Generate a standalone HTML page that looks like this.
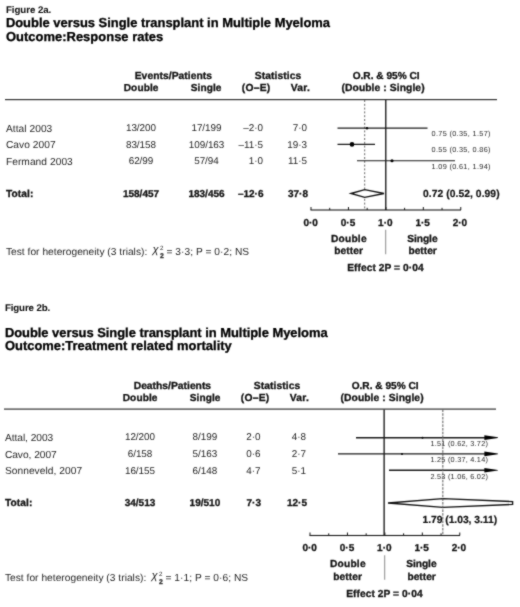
<!DOCTYPE html>
<html><head><meta charset="utf-8"><title>Figure 2</title>
<style>
html,body{margin:0;padding:0;background:#fff;}
body{width:520px;height:607px;overflow:hidden;}
svg{display:block;text-rendering:geometricPrecision;font-family:"Liberation Sans",sans-serif;}
</style></head><body>
<svg width="520" height="607" viewBox="0 0 520 607">
<defs><filter id="soft" x="0" y="0" width="520" height="607" filterUnits="userSpaceOnUse" color-interpolation-filters="sRGB"><feConvolveMatrix order="3" kernelMatrix="0.3 0.75 0.3 0.75 5 0.75 0.3 0.75 0.3" divisor="9.2" edgeMode="duplicate" preserveAlpha="false"/></filter></defs>
<g filter="url(#soft)">
<rect width="520" height="607" fill="#fff"/>
<g transform="translate(0,0)">
<text transform="translate(5.9 12.5) scale(1.0 1)" font-size="9.7" font-weight="bold" text-anchor="start" fill="#111" textLength="45.4" lengthAdjust="spacing" stroke="#111" stroke-width="0.05">Figure 2a.</text>
<text transform="translate(5.9 27) scale(1.0 1)" font-size="12.95" font-weight="bold" text-anchor="start" fill="#000" textLength="324.1" lengthAdjust="spacing" stroke="#000" stroke-width="0.3">Double versus Single transplant in Multiple Myeloma</text>
<text transform="translate(5.9 40.5) scale(1.0 1)" font-size="12.95" font-weight="bold" text-anchor="start" fill="#000" textLength="157.4" lengthAdjust="spacing" stroke="#000" stroke-width="0.3">Outcome:Response rates</text>
<text transform="translate(134.7 79) scale(1.0 1)" font-size="10.3" font-weight="bold" text-anchor="start" fill="#111" textLength="77.4" lengthAdjust="spacing" stroke="#111" stroke-width="0.3">Events/Patients</text>
<text transform="translate(123.7 91) scale(1.0 1)" font-size="10.1" font-weight="bold" text-anchor="start" fill="#111" textLength="34.8" lengthAdjust="spacing" stroke="#111" stroke-width="0.3">Double</text>
<text transform="translate(190.7 91) scale(1.0 1)" font-size="10.1" font-weight="bold" text-anchor="start" fill="#111" textLength="30.8" lengthAdjust="spacing" stroke="#111" stroke-width="0.3">Single</text>
<text transform="translate(254.7 79) scale(1.0 1)" font-size="10.3" font-weight="bold" text-anchor="start" fill="#111" textLength="46.6" lengthAdjust="spacing" stroke="#111" stroke-width="0.3">Statistics</text>
<text transform="translate(241.7 91) scale(1.0 1)" font-size="10.3" font-weight="bold" text-anchor="start" fill="#111" textLength="28.6" lengthAdjust="spacing" stroke="#111" stroke-width="0.3">(O–E)</text>
<text transform="translate(290.7 91) scale(1.0 1)" font-size="10.3" font-weight="bold" text-anchor="start" fill="#111" textLength="19.1" lengthAdjust="spacing" stroke="#111" stroke-width="0.3">Var.</text>
<text transform="translate(352.7 79) scale(1.0 1)" font-size="10.1" font-weight="bold" text-anchor="start" fill="#111" textLength="66.9" lengthAdjust="spacing" stroke="#111" stroke-width="0.3">O.R. &amp; 95% CI</text>
<text transform="translate(341.5 91) scale(1.0 1)" font-size="10.3" font-weight="bold" text-anchor="start" fill="#111" textLength="83.1" lengthAdjust="spacing" stroke="#111" stroke-width="0.3">(Double : Single)</text>
<rect x="5" y="99" width="492" height="1.2" fill="#333"/>
<text transform="translate(5.9 131.5) scale(1.0 1)" font-size="10.2" font-weight="normal" text-anchor="start" fill="#262626" textLength="46.4" lengthAdjust="spacing">Attal 2003</text>
<text transform="translate(141 130.9) scale(1.0 1)" font-size="9.9" font-weight="normal" text-anchor="middle" fill="#262626">13/200</text>
<text transform="translate(206.5 130.9) scale(1.0 1)" font-size="9.9" font-weight="normal" text-anchor="middle" fill="#262626">17/199</text>
<text transform="translate(263 130.9) scale(1.0 1)" font-size="9.9" font-weight="normal" text-anchor="end" fill="#262626">–2·0</text>
<text transform="translate(307 130.9) scale(1.0 1)" font-size="9.9" font-weight="normal" text-anchor="end" fill="#262626">7·0</text>
<text transform="translate(5.9 148.3) scale(1.0 1)" font-size="10.2" font-weight="normal" text-anchor="start" fill="#262626" textLength="49.7" lengthAdjust="spacing">Cavo 2007</text>
<text transform="translate(141 147.70000000000002) scale(1.0 1)" font-size="9.9" font-weight="normal" text-anchor="middle" fill="#262626">83/158</text>
<text transform="translate(206.5 147.70000000000002) scale(1.0 1)" font-size="9.9" font-weight="normal" text-anchor="middle" fill="#262626">109/163</text>
<text transform="translate(263 147.70000000000002) scale(1.0 1)" font-size="9.9" font-weight="normal" text-anchor="end" fill="#262626">–11·5</text>
<text transform="translate(307 147.70000000000002) scale(1.0 1)" font-size="9.9" font-weight="normal" text-anchor="end" fill="#262626">19·3</text>
<text transform="translate(5.9 164.9) scale(1.0 1)" font-size="10.2" font-weight="normal" text-anchor="start" fill="#262626" textLength="66.9" lengthAdjust="spacing">Fermand 2003</text>
<text transform="translate(141 164.3) scale(1.0 1)" font-size="9.9" font-weight="normal" text-anchor="middle" fill="#262626">62/99</text>
<text transform="translate(206.5 164.3) scale(1.0 1)" font-size="9.9" font-weight="normal" text-anchor="middle" fill="#262626">57/94</text>
<text transform="translate(263 164.3) scale(1.0 1)" font-size="9.9" font-weight="normal" text-anchor="end" fill="#262626">1·0</text>
<text transform="translate(307 164.3) scale(1.0 1)" font-size="9.9" font-weight="normal" text-anchor="end" fill="#262626">11·5</text>
<text transform="translate(5.9 196.75) scale(1.0 1)" font-size="10.2" font-weight="bold" text-anchor="start" fill="#111" textLength="27.4" lengthAdjust="spacing" stroke="#111" stroke-width="0.3">Total:</text>
<text transform="translate(141 196.75) scale(1.0 1)" font-size="10.0" font-weight="bold" text-anchor="middle" fill="#111" stroke="#111" stroke-width="0.3">158/457</text>
<text transform="translate(206.5 196.75) scale(1.0 1)" font-size="10.0" font-weight="bold" text-anchor="middle" fill="#111" stroke="#111" stroke-width="0.3">183/456</text>
<text transform="translate(263.5 196.75) scale(1.0 1)" font-size="10.0" font-weight="bold" text-anchor="end" fill="#111" stroke="#111" stroke-width="0.3">–12·6</text>
<text transform="translate(308 196.75) scale(1.0 1)" font-size="10.0" font-weight="bold" text-anchor="end" fill="#111" stroke="#111" stroke-width="0.3">37·8</text>
<line x1="364.7" y1="100" x2="364.7" y2="210" stroke="#666" stroke-width="1" stroke-dasharray="2 1.8"/>
<rect x="385.1" y="100" width="1.35" height="110" fill="#1a1a1a"/>
<line x1="337.5" y1="128.2" x2="427.5" y2="128.2" stroke="#1a1a1a" stroke-width="1.2"/>
<circle cx="367" cy="128.2" r="1.2" fill="#000"/>
<text transform="translate(431.5 136.2) scale(1.0 1)" font-size="7.3" font-weight="normal" text-anchor="start" fill="#2a2a2a" textLength="59.0" lengthAdjust="spacing">0.75 (0.35, 1.57)</text>
<line x1="337.5" y1="144.4" x2="375" y2="144.4" stroke="#1a1a1a" stroke-width="1.2"/>
<circle cx="352" cy="144.4" r="2.3" fill="#000"/>
<text transform="translate(431.5 152.4) scale(1.0 1)" font-size="7.3" font-weight="normal" text-anchor="start" fill="#2a2a2a" textLength="59.0" lengthAdjust="spacing">0.55 (0.35, 0.86)</text>
<line x1="357" y1="160.75" x2="455" y2="160.75" stroke="#1a1a1a" stroke-width="1.2"/>
<circle cx="392" cy="160.75" r="1.6" fill="#000"/>
<text transform="translate(431.5 168.75) scale(1.0 1)" font-size="7.3" font-weight="normal" text-anchor="start" fill="#2a2a2a" textLength="59.0" lengthAdjust="spacing">1.09 (0.61, 1.94)</text>
<polygon points="351,193.5 364.7,189.6 384,193.5 364.7,197.4" fill="#fff" stroke="#111" stroke-width="1.35" stroke-linejoin="miter"/>
<text transform="translate(423.0 196.75) scale(1.0 1)" font-size="10.3" font-weight="bold" text-anchor="start" fill="#111" textLength="76.6" lengthAdjust="spacing" stroke="#111" stroke-width="0.2">0.72 (0.52, 0.99)</text>
<rect x="310.5" y="209.45" width="150.5" height="1.1" fill="#1a1a1a"/>
<rect x="310.5" y="207" width="1" height="3" fill="#1a1a1a"/>
<rect x="329.22" y="207.8" width="1" height="2.2" fill="#1a1a1a"/>
<rect x="347.94" y="207" width="1" height="3" fill="#1a1a1a"/>
<rect x="366.65999999999997" y="207.8" width="1" height="2.2" fill="#1a1a1a"/>
<rect x="385.38" y="207" width="1" height="3" fill="#1a1a1a"/>
<rect x="404.1" y="207.8" width="1" height="2.2" fill="#1a1a1a"/>
<rect x="422.82" y="207" width="1" height="3" fill="#1a1a1a"/>
<rect x="441.53999999999996" y="207.8" width="1" height="2.2" fill="#1a1a1a"/>
<rect x="460.26" y="207" width="1" height="3" fill="#1a1a1a"/>
<text transform="translate(310.7 225.8) scale(1.0 1)" font-size="10.0" font-weight="bold" text-anchor="middle" fill="#111" stroke="#111" stroke-width="0.3">0·0</text>
<text transform="translate(348.0 225.8) scale(1.0 1)" font-size="10.0" font-weight="bold" text-anchor="middle" fill="#111" stroke="#111" stroke-width="0.3">0·5</text>
<text transform="translate(385.29999999999995 225.8) scale(1.0 1)" font-size="10.0" font-weight="bold" text-anchor="middle" fill="#111" stroke="#111" stroke-width="0.3">1·0</text>
<text transform="translate(422.59999999999997 225.8) scale(1.0 1)" font-size="10.0" font-weight="bold" text-anchor="middle" fill="#111" stroke="#111" stroke-width="0.3">1·5</text>
<text transform="translate(459.9 225.8) scale(1.0 1)" font-size="10.0" font-weight="bold" text-anchor="middle" fill="#111" stroke="#111" stroke-width="0.3">2·0</text>
<text transform="translate(330.9 241.75) scale(1.0 1)" font-size="10.2" font-weight="bold" text-anchor="start" fill="#111" textLength="35.7" lengthAdjust="spacing" stroke="#111" stroke-width="0.3">Double</text>
<text transform="translate(334.2 254) scale(1.0 1)" font-size="10.2" font-weight="bold" text-anchor="start" fill="#111" textLength="28.7" lengthAdjust="spacing" stroke="#111" stroke-width="0.3">better</text>
<text transform="translate(407.2 241.75) scale(1.0 1)" font-size="10.2" font-weight="bold" text-anchor="start" fill="#111" textLength="30.4" lengthAdjust="spacing" stroke="#111" stroke-width="0.3">Single</text>
<text transform="translate(408.4 254) scale(1.0 1)" font-size="10.2" font-weight="bold" text-anchor="start" fill="#111" textLength="28.4" lengthAdjust="spacing" stroke="#111" stroke-width="0.3">better</text>
<rect x="385.2" y="229.75" width="1" height="24.5" fill="#8a8a8a"/>
<text transform="translate(347.2 271) scale(1.0 1)" font-size="10.2" font-weight="bold" text-anchor="start" fill="#111" textLength="76.4" lengthAdjust="spacing" stroke="#111" stroke-width="0.3">Effect 2P = 0·04</text>
<text transform="translate(5.9 255.25) scale(1.0 1)" font-size="10.2" font-weight="normal" text-anchor="start" fill="#262626" textLength="141.4" lengthAdjust="spacing">Test for heterogeneity (3 trials):</text>
<text transform="translate(152.4 253.15) scale(1.0 1)" font-size="11.2" font-weight="normal" text-anchor="start" fill="#262626" font-style="italic">χ</text>
<text transform="translate(160.1 250.05) scale(1.0 1)" font-size="6.2" font-weight="normal" text-anchor="start" fill="#262626">2</text>
<text transform="translate(160 258.35) scale(1.0 1)" font-size="6.8" font-weight="bold" text-anchor="start" fill="#333" stroke="#333" stroke-width="0.3">2</text>
<text transform="translate(166.5 255.25) scale(1.0 1)" font-size="10.2" font-weight="normal" text-anchor="start" fill="#262626" textLength="82.6" lengthAdjust="spacing">= 3·3; P = 0·2; NS</text>
</g>
<g transform="translate(-1,0)">
<text transform="translate(5.9 311) scale(1.0 1)" font-size="9.7" font-weight="bold" text-anchor="start" fill="#111" textLength="45.4" lengthAdjust="spacing" stroke="#111" stroke-width="0.05">Figure 2b.</text>
<text transform="translate(5.9 336.5) scale(1.0 1)" font-size="12.95" font-weight="bold" text-anchor="start" fill="#000" textLength="322.7" lengthAdjust="spacing" stroke="#000" stroke-width="0.3">Double versus Single transplant in Multiple Myeloma</text>
<text transform="translate(5.9 350.0) scale(1.0 1)" font-size="12.95" font-weight="bold" text-anchor="start" fill="#000" textLength="226.9" lengthAdjust="spacing" stroke="#000" stroke-width="0.3">Outcome:Treatment related mortality</text>
<text transform="translate(134.7 388.5) scale(1.0 1)" font-size="10.3" font-weight="bold" text-anchor="start" fill="#111" textLength="77.4" lengthAdjust="spacing" stroke="#111" stroke-width="0.3">Deaths/Patients</text>
<text transform="translate(123.7 400.5) scale(1.0 1)" font-size="10.1" font-weight="bold" text-anchor="start" fill="#111" textLength="34.8" lengthAdjust="spacing" stroke="#111" stroke-width="0.3">Double</text>
<text transform="translate(190.7 400.5) scale(1.0 1)" font-size="10.1" font-weight="bold" text-anchor="start" fill="#111" textLength="30.8" lengthAdjust="spacing" stroke="#111" stroke-width="0.3">Single</text>
<text transform="translate(254.7 388.5) scale(1.0 1)" font-size="10.3" font-weight="bold" text-anchor="start" fill="#111" textLength="46.6" lengthAdjust="spacing" stroke="#111" stroke-width="0.3">Statistics</text>
<text transform="translate(241.7 400.5) scale(1.0 1)" font-size="10.3" font-weight="bold" text-anchor="start" fill="#111" textLength="28.6" lengthAdjust="spacing" stroke="#111" stroke-width="0.3">(O–E)</text>
<text transform="translate(290.7 400.5) scale(1.0 1)" font-size="10.3" font-weight="bold" text-anchor="start" fill="#111" textLength="19.1" lengthAdjust="spacing" stroke="#111" stroke-width="0.3">Var.</text>
<text transform="translate(352.7 388.5) scale(1.0 1)" font-size="10.1" font-weight="bold" text-anchor="start" fill="#111" textLength="66.9" lengthAdjust="spacing" stroke="#111" stroke-width="0.3">O.R. &amp; 95% CI</text>
<text transform="translate(341.5 400.5) scale(1.0 1)" font-size="10.3" font-weight="bold" text-anchor="start" fill="#111" textLength="83.1" lengthAdjust="spacing" stroke="#111" stroke-width="0.3">(Double : Single)</text>
<rect x="5" y="408.5" width="492" height="1.2" fill="#333"/>
<text transform="translate(5.9 441.0) scale(1.0 1)" font-size="10.2" font-weight="normal" text-anchor="start" fill="#262626" textLength="48.4" lengthAdjust="spacing">Attal, 2003</text>
<text transform="translate(141 440.4) scale(1.0 1)" font-size="9.9" font-weight="normal" text-anchor="middle" fill="#262626">12/200</text>
<text transform="translate(205.9 440.4) scale(1.0 1)" font-size="9.9" font-weight="normal" text-anchor="middle" fill="#262626">8/199</text>
<text transform="translate(261.5 440.4) scale(1.0 1)" font-size="9.9" font-weight="normal" text-anchor="end" fill="#262626">2·0</text>
<text transform="translate(307 440.4) scale(1.0 1)" font-size="9.9" font-weight="normal" text-anchor="end" fill="#262626">4·8</text>
<text transform="translate(5.9 457.8) scale(1.0 1)" font-size="10.2" font-weight="normal" text-anchor="start" fill="#262626" textLength="51.9" lengthAdjust="spacing">Cavo, 2007</text>
<text transform="translate(141 457.2) scale(1.0 1)" font-size="9.9" font-weight="normal" text-anchor="middle" fill="#262626">6/158</text>
<text transform="translate(205.9 457.2) scale(1.0 1)" font-size="9.9" font-weight="normal" text-anchor="middle" fill="#262626">5/163</text>
<text transform="translate(261.5 457.2) scale(1.0 1)" font-size="9.9" font-weight="normal" text-anchor="end" fill="#262626">0·6</text>
<text transform="translate(307 457.2) scale(1.0 1)" font-size="9.9" font-weight="normal" text-anchor="end" fill="#262626">2·7</text>
<text transform="translate(5.9 474.4) scale(1.0 1)" font-size="10.2" font-weight="normal" text-anchor="start" fill="#262626" textLength="77.2" lengthAdjust="spacing">Sonneveld, 2007</text>
<text transform="translate(141 473.79999999999995) scale(1.0 1)" font-size="9.9" font-weight="normal" text-anchor="middle" fill="#262626">16/155</text>
<text transform="translate(205.9 473.79999999999995) scale(1.0 1)" font-size="9.9" font-weight="normal" text-anchor="middle" fill="#262626">6/148</text>
<text transform="translate(261.5 473.79999999999995) scale(1.0 1)" font-size="9.9" font-weight="normal" text-anchor="end" fill="#262626">4·7</text>
<text transform="translate(307 473.79999999999995) scale(1.0 1)" font-size="9.9" font-weight="normal" text-anchor="end" fill="#262626">5·1</text>
<text transform="translate(5.9 506.25) scale(1.0 1)" font-size="10.2" font-weight="bold" text-anchor="start" fill="#111" textLength="27.4" lengthAdjust="spacing" stroke="#111" stroke-width="0.3">Total:</text>
<text transform="translate(141 506.25) scale(1.0 1)" font-size="10.0" font-weight="bold" text-anchor="middle" fill="#111" stroke="#111" stroke-width="0.3">34/513</text>
<text transform="translate(205.9 506.25) scale(1.0 1)" font-size="10.0" font-weight="bold" text-anchor="middle" fill="#111" stroke="#111" stroke-width="0.3">19/510</text>
<text transform="translate(262.0 506.25) scale(1.0 1)" font-size="10.0" font-weight="bold" text-anchor="end" fill="#111" stroke="#111" stroke-width="0.3">7·3</text>
<text transform="translate(308 506.25) scale(1.0 1)" font-size="10.0" font-weight="bold" text-anchor="end" fill="#111" stroke="#111" stroke-width="0.3">12·5</text>
<rect x="384.45" y="409.5" width="1.35" height="126.0" fill="#1a1a1a"/>
<line x1="357" y1="437.7" x2="487" y2="437.7" stroke="#1a1a1a" stroke-width="1.35"/>
<polygon points="485.4,435.34999999999997 498.9,437.34999999999997 498.9,438.05 485.4,440.05" fill="#000"/>
<circle cx="423.5" cy="437.7" r="1.0" fill="#000"/>
<text transform="translate(431.5 446.0) scale(1.0 1)" font-size="7.3" font-weight="normal" text-anchor="start" fill="#2a2a2a" textLength="57.4" lengthAdjust="spacing">1.51 (0.62, 3.72)</text>
<line x1="339" y1="453.9" x2="487" y2="453.9" stroke="#1a1a1a" stroke-width="1.35"/>
<polygon points="485.4,451.54999999999995 498.9,453.54999999999995 498.9,454.25 485.4,456.25" fill="#000"/>
<circle cx="403" cy="453.9" r="1.0" fill="#000"/>
<text transform="translate(431.5 462.2) scale(1.0 1)" font-size="7.3" font-weight="normal" text-anchor="start" fill="#2a2a2a" textLength="57.4" lengthAdjust="spacing">1.25 (0.37, 4.14)</text>
<line x1="390" y1="470.25" x2="487" y2="470.25" stroke="#1a1a1a" stroke-width="1.35"/>
<polygon points="485.4,467.9 498.9,469.9 498.9,470.6 485.4,472.6" fill="#000"/>
<text transform="translate(431.5 478.55) scale(1.0 1)" font-size="7.3" font-weight="normal" text-anchor="start" fill="#2a2a2a" textLength="57.4" lengthAdjust="spacing">2.53 (1.06, 6.02)</text>
<polygon points="389,503 443.85,498.6 513.6,501.6 513.6,504.4 443.85,507.4" fill="#fff" stroke="#111" stroke-width="1.35" stroke-linejoin="miter"/>
<line x1="443.85" y1="409.5" x2="443.85" y2="535.5" stroke="#5a5a5a" stroke-width="1" stroke-dasharray="2.6 1.1"/>
<text transform="translate(423.5 522.8) scale(1.0 1)" font-size="10.3" font-weight="bold" text-anchor="start" fill="#111" textLength="74.6" lengthAdjust="spacing" stroke="#111" stroke-width="0.2">1.79 (1.03, 3.11)</text>
<rect x="310.5" y="534.95" width="150.5" height="1.1" fill="#1a1a1a"/>
<rect x="310.5" y="532.5" width="1" height="3" fill="#1a1a1a"/>
<rect x="329.22" y="533.3" width="1" height="2.2" fill="#1a1a1a"/>
<rect x="347.94" y="532.5" width="1" height="3" fill="#1a1a1a"/>
<rect x="366.65999999999997" y="533.3" width="1" height="2.2" fill="#1a1a1a"/>
<rect x="385.38" y="532.5" width="1" height="3" fill="#1a1a1a"/>
<rect x="404.1" y="533.3" width="1" height="2.2" fill="#1a1a1a"/>
<rect x="422.82" y="532.5" width="1" height="3" fill="#1a1a1a"/>
<rect x="441.53999999999996" y="533.3" width="1" height="2.2" fill="#1a1a1a"/>
<rect x="460.26" y="532.5" width="1" height="3" fill="#1a1a1a"/>
<text transform="translate(310.7 551.3) scale(1.0 1)" font-size="10.0" font-weight="bold" text-anchor="middle" fill="#111" stroke="#111" stroke-width="0.3">0·0</text>
<text transform="translate(348.0 551.3) scale(1.0 1)" font-size="10.0" font-weight="bold" text-anchor="middle" fill="#111" stroke="#111" stroke-width="0.3">0·5</text>
<text transform="translate(385.29999999999995 551.3) scale(1.0 1)" font-size="10.0" font-weight="bold" text-anchor="middle" fill="#111" stroke="#111" stroke-width="0.3">1·0</text>
<text transform="translate(422.59999999999997 551.3) scale(1.0 1)" font-size="10.0" font-weight="bold" text-anchor="middle" fill="#111" stroke="#111" stroke-width="0.3">1·5</text>
<text transform="translate(459.9 551.3) scale(1.0 1)" font-size="10.0" font-weight="bold" text-anchor="middle" fill="#111" stroke="#111" stroke-width="0.3">2·0</text>
<text transform="translate(330.9 567.25) scale(1.0 1)" font-size="10.2" font-weight="bold" text-anchor="start" fill="#111" textLength="35.7" lengthAdjust="spacing" stroke="#111" stroke-width="0.3">Double</text>
<text transform="translate(334.2 579.5) scale(1.0 1)" font-size="10.2" font-weight="bold" text-anchor="start" fill="#111" textLength="28.7" lengthAdjust="spacing" stroke="#111" stroke-width="0.3">better</text>
<text transform="translate(407.2 567.25) scale(1.0 1)" font-size="10.2" font-weight="bold" text-anchor="start" fill="#111" textLength="30.4" lengthAdjust="spacing" stroke="#111" stroke-width="0.3">Single</text>
<text transform="translate(408.4 579.5) scale(1.0 1)" font-size="10.2" font-weight="bold" text-anchor="start" fill="#111" textLength="28.4" lengthAdjust="spacing" stroke="#111" stroke-width="0.3">better</text>
<rect x="385.2" y="555.25" width="1" height="24.5" fill="#8a8a8a"/>
<text transform="translate(347.2 596.5) scale(1.0 1)" font-size="10.2" font-weight="bold" text-anchor="start" fill="#111" textLength="76.4" lengthAdjust="spacing" stroke="#111" stroke-width="0.3">Effect 2P = 0·04</text>
<text transform="translate(5.9 580.75) scale(1.0 1)" font-size="10.2" font-weight="normal" text-anchor="start" fill="#262626" textLength="141.4" lengthAdjust="spacing">Test for heterogeneity (3 trials):</text>
<text transform="translate(152.4 578.65) scale(1.0 1)" font-size="11.2" font-weight="normal" text-anchor="start" fill="#262626" font-style="italic">χ</text>
<text transform="translate(160.1 575.55) scale(1.0 1)" font-size="6.2" font-weight="normal" text-anchor="start" fill="#262626">2</text>
<text transform="translate(160 583.85) scale(1.0 1)" font-size="6.8" font-weight="bold" text-anchor="start" fill="#333" stroke="#333" stroke-width="0.3">2</text>
<text transform="translate(166.5 580.75) scale(1.0 1)" font-size="10.2" font-weight="normal" text-anchor="start" fill="#262626" textLength="82.6" lengthAdjust="spacing">= 1·1; P = 0·6; NS</text>
</g>
</g></svg></body></html>
